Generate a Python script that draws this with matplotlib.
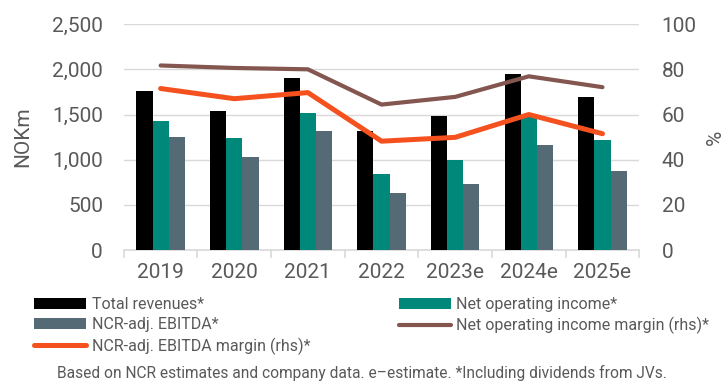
import matplotlib as mpl
import matplotlib.pyplot as plt
import numpy as np

years = ["2019", "2020", "2021", "2022", "2023e", "2024e", "2025e"]
total_revenues = [1760, 1540, 1900, 1315, 1480, 1945, 1695]
net_operating_income = [1430, 1235, 1515, 845, 995, 1475, 1220]
ncr_adj_ebitda = [1255, 1025, 1315, 635, 735, 1160, 870]
noi_margin = [81.7, 80.6, 80.0, 64.4, 67.8, 76.9, 72.1]
ebitda_margin = [71.5, 67.0, 69.7, 48.2, 49.9, 60.0, 51.5]

TEXT = "#595959"
GRID = "#d9d9d9"
FS = 15

mpl.rcParams.update({
    "font.family": ["Roboto", "DejaVu Sans"],
    "text.color": TEXT,
    "axes.labelcolor": TEXT,
    "xtick.color": TEXT,
    "ytick.color": TEXT,
})

fig = plt.figure(figsize=(7.24, 3.83), dpi=100)
ax = fig.add_axes([0.171, 0.347, 0.712, 0.590])
ax2 = ax.twinx()

x = np.arange(len(years))
w = 0.22
h1 = ax.bar(x - w, total_revenues, w, color="#000000", label="Total revenues*", zorder=3)
h2 = ax.bar(x, net_operating_income, w, color="#00897a", label="Net operating income*", zorder=3)
h3 = ax.bar(x + w, ncr_adj_ebitda, w, color="#546b76", label="NCR-adj. EBITDA*", zorder=3)

l1, = ax2.plot(x, noi_margin, color="#845650", lw=3.0, solid_capstyle="round",
               label="Net operating income margin (rhs)*")
l2, = ax2.plot(x, ebitda_margin, color="#f4511e", lw=3.6, solid_capstyle="round",
               label="NCR-adj. EBITDA margin (rhs)*")

ax.set_xlim(-0.5, len(years) - 0.5)
ax.set_ylim(0, 2500)
ax.set_yticks(range(0, 2501, 500))
ax.set_yticklabels([f"{v:,}" for v in range(0, 2501, 500)])
ax2.set_ylim(0, 100)
ax2.set_yticks(range(0, 101, 20))

ax.grid(axis="y", color=GRID, lw=1.0, zorder=0)
ax.set_axisbelow(True)
for a in (ax, ax2):
    for s in ("top", "left", "right", "bottom"):
        a.spines[s].set_visible(False)
ax.tick_params(axis="y", length=0, labelsize=FS, pad=15)
ax2.tick_params(axis="y", length=0, labelsize=FS, pad=16)
ax.spines["bottom"].set_visible(True)
ax.spines["bottom"].set_color(GRID)
ax.spines["bottom"].set_linewidth(1.2)

# category labels centred, tick marks between categories
ax.set_xticks(x)
ax.set_xticklabels(years, fontsize=FS)
ax.tick_params(axis="x", which="major", length=0, pad=9)
ax.set_xticks(np.arange(-0.5, len(years), 1.0), minor=True)
ax.tick_params(axis="x", which="minor", length=6, color=GRID, width=1.2)

ax.set_ylabel("NOKm", fontsize=FS, labelpad=14)
ax2.set_ylabel("%", fontsize=FS, labelpad=7)

leg_kw = dict(loc="upper left", frameon=False, fontsize=11.5, handlelength=3.25,
              handletextpad=0.35, labelspacing=0.33, borderaxespad=0, borderpad=0)
left_handles = [h1, h3, l2]
right_handles = [h2, l1]
fig.legend(left_handles, [h.get_label() for h in left_handles],
           bbox_to_anchor=(0.047, 0.225), **leg_kw)
fig.legend(right_handles, [h.get_label() for h in right_handles],
           bbox_to_anchor=(0.551, 0.225), **leg_kw)

fig.text(0.5, 0.026, "Based on NCR estimates and company data. e\u2013estimate. *Including dividends from JVs.",
         ha="center", va="center", fontsize=11.2, color=TEXT)

fig.savefig("out.png", dpi=100)
